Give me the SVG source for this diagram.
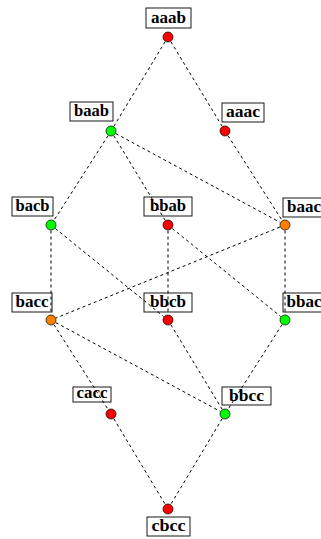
<svg xmlns="http://www.w3.org/2000/svg" width="321" height="539" viewBox="0 0 321 539">
<style>
.lbl rect{fill:#fff;stroke:#000;stroke-width:0.9}
.lbl text{font-family:"Liberation Serif","DejaVu Serif",serif;font-weight:bold;font-size:16px;text-anchor:middle;fill:#000}
.dot{stroke:#000;stroke-width:0.7}
.r{fill:#ff0000}.g{fill:#00ff00}.o{fill:#ff8000}
#edges line{stroke:#000;stroke-width:1;stroke-dasharray:3 3;fill:none}
</style>
<rect width="321" height="539" fill="#fff"/>
<g id="aaab" class="lbl"><rect x="146" y="8" width="45" height="20"/><text x="168.5" y="23" textLength="35" lengthAdjust="spacingAndGlyphs">aaab</text><circle class="dot r" cx="168" cy="37" r="5"/></g>
<g id="baab" class="lbl"><rect x="70" y="102" width="43" height="19"/><text x="91.5" y="116" textLength="35" lengthAdjust="spacingAndGlyphs">baab</text><circle class="dot g" cx="111" cy="131" r="5"/></g>
<g id="aaac" class="lbl"><rect x="222" y="103" width="42" height="19"/><text x="243" y="117" textLength="34" lengthAdjust="spacingAndGlyphs">aaac</text><circle class="dot r" cx="225" cy="131" r="5"/></g>
<g id="bacb" class="lbl"><rect x="12" y="197" width="41" height="19"/><text x="32.5" y="211" textLength="34" lengthAdjust="spacingAndGlyphs">bacb</text><circle class="dot g" cx="51" cy="225" r="5"/></g>
<g id="bbab" class="lbl"><rect x="144" y="197" width="48" height="19"/><text x="168" y="211" textLength="36" lengthAdjust="spacingAndGlyphs">bbab</text><circle class="dot r" cx="168" cy="225" r="5"/></g>
<g id="baac" class="lbl"><rect x="283" y="198" width="42" height="19"/><text x="304" y="212" textLength="34" lengthAdjust="spacingAndGlyphs">baac</text><circle class="dot o" cx="285" cy="225" r="5"/></g>
<g id="bacc" class="lbl"><rect x="12" y="293" width="40" height="19"/><text x="32" y="307" textLength="33" lengthAdjust="spacingAndGlyphs">bacc</text><circle class="dot o" cx="51" cy="320" r="5"/></g>
<g id="bbcb" class="lbl"><rect x="144" y="293" width="48" height="19"/><text x="168" y="307" textLength="36" lengthAdjust="spacingAndGlyphs">bbcb</text><circle class="dot r" cx="168" cy="320" r="5"/></g>
<g id="bbac" class="lbl"><rect x="283" y="293" width="42" height="19"/><text x="304" y="307" textLength="35" lengthAdjust="spacingAndGlyphs">bbac</text><circle class="dot g" cx="285" cy="320" r="5"/></g>
<g id="cacc" class="lbl"><rect x="73" y="387" width="38" height="15"/><text x="92" y="398" textLength="31" lengthAdjust="spacingAndGlyphs">cacc</text><circle class="dot r" cx="111" cy="414" r="5"/></g>
<g id="bbcc" class="lbl"><rect x="222" y="387" width="49" height="18"/><text x="246.5" y="401" textLength="35" lengthAdjust="spacingAndGlyphs">bbcc</text><circle class="dot g" cx="225" cy="414" r="5"/></g>
<g id="cbcc" class="lbl"><rect x="147" y="517" width="43" height="19"/><text x="168.5" y="531" textLength="34" lengthAdjust="spacingAndGlyphs">cbcc</text><circle class="dot r" cx="168" cy="509" r="5"/></g>
<g id="edges">
<line x1="165.15" y1="41.70" x2="113.85" y2="126.30"/>
<line x1="170.85" y1="41.70" x2="222.15" y2="126.30"/>
<line x1="108.04" y1="135.64" x2="53.96" y2="220.36"/>
<line x1="113.85" y1="135.70" x2="165.15" y2="220.30"/>
<line x1="115.84" y1="133.61" x2="280.16" y2="222.39"/>
<line x1="227.96" y1="135.64" x2="282.04" y2="220.36"/>
<line x1="51" y1="230.5" x2="51" y2="314.5"/>
<line x1="55.27" y1="228.47" x2="163.73" y2="316.53"/>
<line x1="168" y1="230.5" x2="168" y2="314.5"/>
<line x1="172.27" y1="228.47" x2="280.73" y2="316.53"/>
<line x1="279.90" y1="227.07" x2="56.10" y2="317.93"/>
<line x1="285" y1="230.5" x2="285" y2="314.5"/>
<line x1="53.96" y1="324.64" x2="108.04" y2="409.36"/>
<line x1="55.84" y1="322.61" x2="220.16" y2="411.39"/>
<line x1="170.85" y1="324.70" x2="222.15" y2="409.30"/>
<line x1="282.04" y1="324.64" x2="227.96" y2="409.36"/>
<line x1="113.83" y1="418.72" x2="165.17" y2="504.28"/>
<line x1="222.17" y1="418.72" x2="170.83" y2="504.28"/>
</g>
</svg>
